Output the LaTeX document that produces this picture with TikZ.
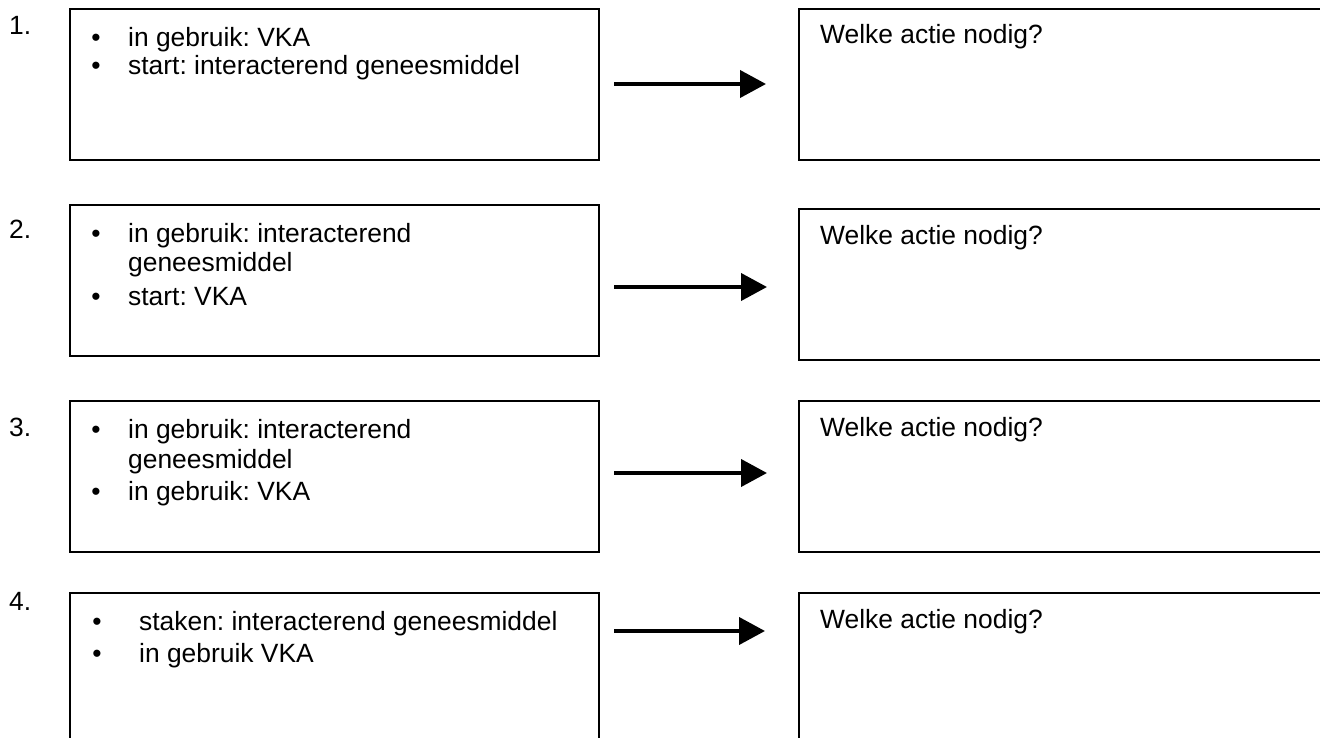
\documentclass[tikz,border=0pt]{standalone}
\usepackage{fontspec}
\setmainfont{Liberation Sans}
\usetikzlibrary{arrows.meta}
\frenchspacing
\begin{document}
\begin{tikzpicture}[x=1pt,y=-1pt,
  box/.style={draw=black, line width=1.9pt, inner sep=0pt, outer sep=0pt, anchor=north west},
  lbox/.style={box, minimum width=529pt, minimum height=151pt},
  rbox/.style={box, minimum width=600pt, minimum height=151pt},
  txt/.style={inner sep=0pt, font=\fontsize{26.4}{30}\selectfont, anchor=base west},
  bul/.style={inner sep=0pt, font=\fontsize{26.4}{30}\selectfont, anchor=base},
  arr/.style={line width=4pt, -{Triangle[length=26pt,width=27pt]}}]
\useasboundingbox (0,0) rectangle (1320,738);
\clip (0,0) rectangle (1320,738);

% boxes
\node[lbox] (L1) at (70,9) {};
\node[rbox] (R1) at (799,9) {};
\node[lbox] (L2) at (70,205) {};
\node[rbox] (R2) at (799,209) {};
\node[lbox] (L3) at (70,401) {};
\node[rbox] (R3) at (799,401) {};
\node[lbox, minimum height=200pt] (L4) at (70,593) {};
\node[rbox, minimum height=200pt] (R4) at (799,593) {};

% numbers
\node[txt] (n1) at (9,35) {1.};
\node[txt] (n2) at (9,239) {2.};
\node[txt] (n3) at (9,436) {3.};
\node[txt] (n4) at (9,610) {4.};

% row 1
\node[bul] (b1a) at (96,47) {•};
\node[txt] (t1a) at (128,47) {in gebruik: VKA};
\node[bul] (b1b) at (96,75) {•};
\node[txt] (t1b) at (128,75) {start: interacterend geneesmiddel};

% row 2
\node[bul] (b2a) at (96,243) {•};
\node[txt] (t2a) at (128,243) {in gebruik: interacterend};
\node[txt] (t2b) at (128,272) {geneesmiddel};
\node[bul] (b2c) at (96,305) {•};
\node[txt] (t2c) at (128,305) {start: VKA};

% row 3
\node[bul] (b3a) at (96,438) {•};
\node[txt] (t3a) at (128,438) {in gebruik: interacterend};
\node[txt] (t3b) at (128,468) {geneesmiddel};
\node[bul] (b3c) at (96,500) {•};
\node[txt] (t3c) at (128,500) {in gebruik: VKA};

% row 4
\node[bul] (b4a) at (97,630) {•};
\node[txt] (t4a) at (139,630) {staken: interacterend geneesmiddel};
\node[bul] (b4b) at (97,662) {•};
\node[txt] (t4b) at (139,662) {in gebruik VKA};

% right texts
\node[txt] (w1) at (820,44) {Welke actie nodig?};
\node[txt] (w2) at (820,244) {Welke actie nodig?};
\node[txt] (w3) at (820,436) {Welke actie nodig?};
\node[txt] (w4) at (820,628) {Welke actie nodig?};

% arrows
\coordinate (a1s) at (614,84);  \coordinate (a1e) at (766,84);
\coordinate (a2s) at (614,287); \coordinate (a2e) at (767,287);
\coordinate (a3s) at (614,473); \coordinate (a3e) at (767,473);
\coordinate (a4s) at (614,631); \coordinate (a4e) at (765,631);
\draw[arr] (a1s) -- (a1e);
\draw[arr] (a2s) -- (a2e);
\draw[arr] (a3s) -- (a3e);
\draw[arr] (a4s) -- (a4e);
\end{tikzpicture}
\end{document}
